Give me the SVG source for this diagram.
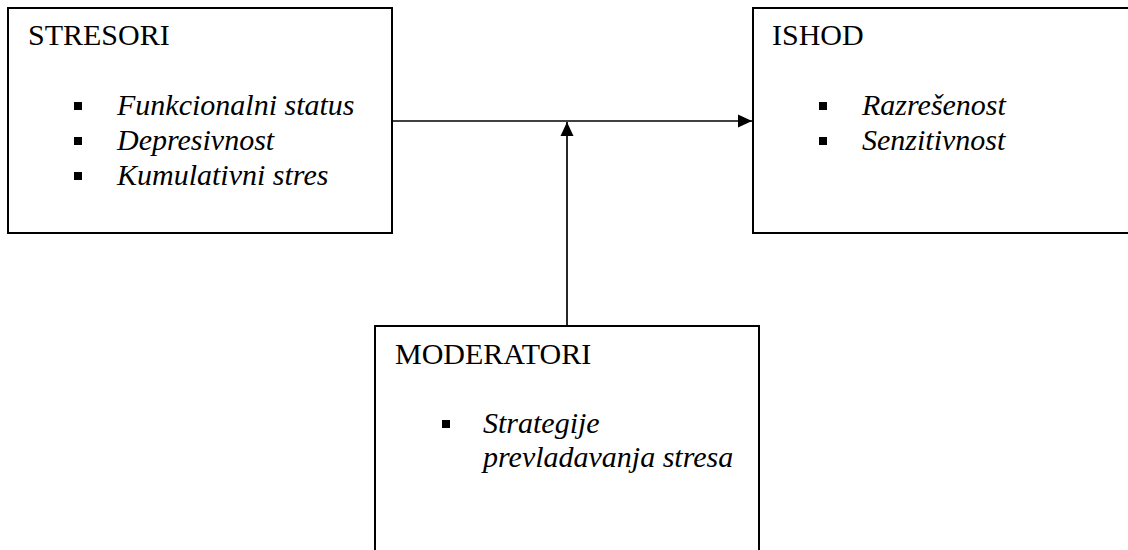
<svg xmlns="http://www.w3.org/2000/svg" width="1128" height="550" viewBox="0 0 1128 550">
<style>
.box{fill:#fff;stroke:#000;stroke-width:2}
.title{font-family:"Liberation Serif","Times New Roman",serif;font-size:30px;fill:#000}
.item{font-family:"Liberation Serif","Times New Roman",serif;font-size:30px;font-style:italic;fill:#000}
.bul{fill:#000}
.conn{stroke:#000;stroke-width:1.7;fill:none}
</style>
<defs>
<marker id="arr" markerWidth="14" markerHeight="14" viewBox="0 0 14 14" refX="14" refY="7" orient="auto" markerUnits="userSpaceOnUse">
<path d="M0,0.5 L14,7 L0,13.5 Z" fill="#000"/>
</marker>
</defs>
<rect width="1128" height="550" fill="#fff"/>
<g id="stresori">
<rect class="box" x="8" y="8" width="384" height="225"/>
<text class="title" x="28" y="45">STRESORI</text>
<rect class="bul" x="74" y="102" width="8" height="8"/>
<text class="item" x="117" y="115">Funkcionalni status</text>
<rect class="bul" x="74" y="137" width="8" height="8"/>
<text class="item" x="117" y="150">Depresivnost</text>
<rect class="bul" x="74" y="172" width="8" height="8"/>
<text class="item" x="117" y="185">Kumulativni stres</text>
</g>
<g id="ishod">
<rect class="box" x="753" y="8" width="390" height="225"/>
<text class="title" x="772" y="45">ISHOD</text>
<rect class="bul" x="819" y="102" width="8" height="8"/>
<text class="item" x="862" y="115">Razrešenost</text>
<rect class="bul" x="819" y="137" width="8" height="8"/>
<text class="item" x="862" y="150">Senzitivnost</text>
</g>
<g id="moderatori">
<rect class="box" x="375" y="326" width="384" height="240"/>
<text class="title" x="395" y="364">MODERATORI</text>
<rect class="bul" x="442" y="420" width="8" height="8"/>
<text class="item" x="483" y="433">Strategije</text>
<text class="item" x="483" y="467">prevladavanja stresa</text>
</g>
<g id="connectors">
<line class="conn" x1="392" y1="121" x2="752" y2="121" marker-end="url(#arr)"/>
<line class="conn" x1="567" y1="325" x2="567" y2="122" marker-end="url(#arr)"/>
</g>
</svg>
